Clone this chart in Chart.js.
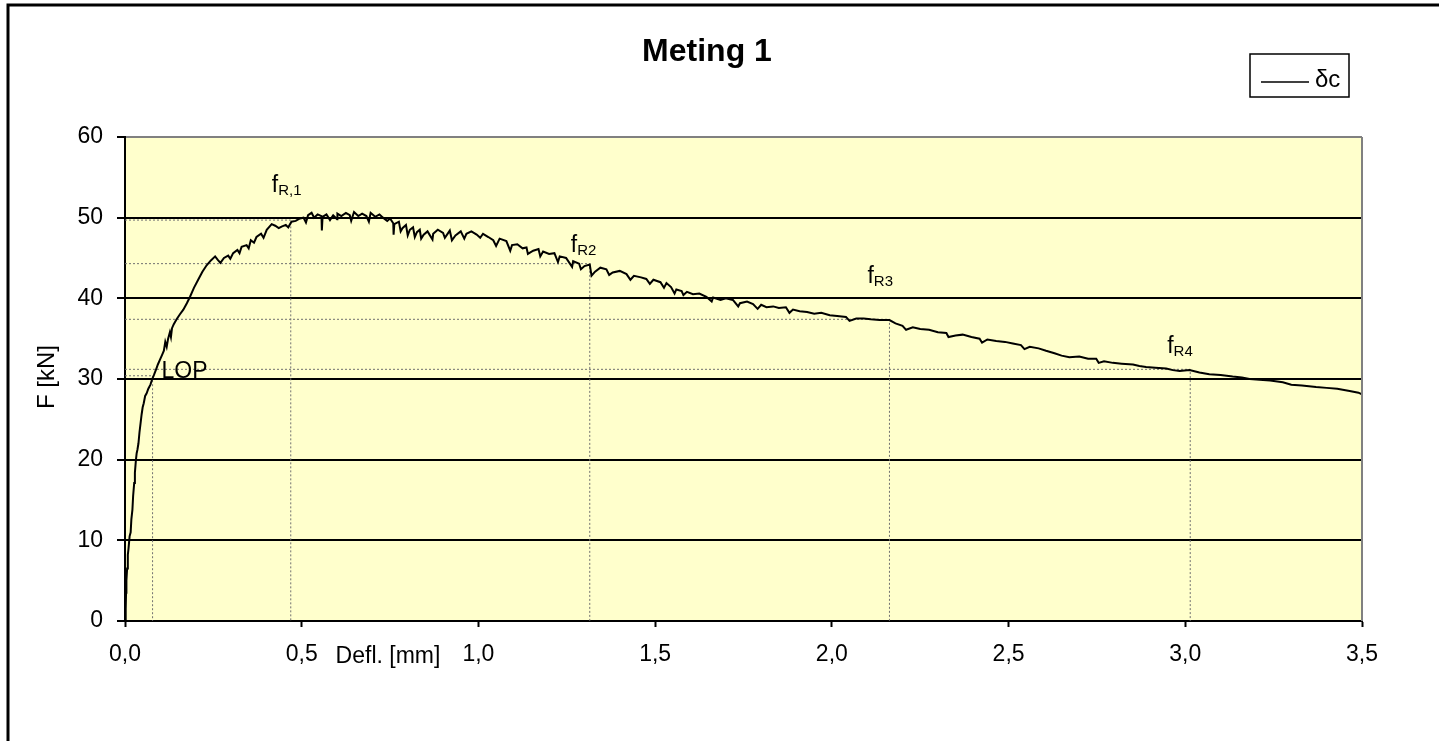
<!DOCTYPE html>
<html>
<head>
<meta charset="utf-8">
<script src="https://cdn.jsdelivr.net/npm/chart.js@4.4.1/dist/chart.umd.min.js"></script>
<style>
  html, body { margin: 0; padding: 0; background: #fff; }
  #wrap { width: 1439px; height: 741px; }
</style>
</head>
<body>
<div id="wrap"><canvas id="meting-chart" width="1439" height="741"></canvas></div>
<script>
const chartTitle = 'Meting 1';
const seriesLabel = 'δc';
const xTitle = 'Defl. [mm]';
const yTitle = 'F [kN]';

const xTickLabels = ['0,0', '0,5', '1,0', '1,5', '2,0', '2,5', '3,0', '3,5'];
const yTickLabels = ['0', '10', '20', '30', '40', '50', '60'];

// deflection [mm] and force [kN]
const defl = [
  0.000, 0.002, 0.003, 0.004, 0.006, 0.008, 0.010, 0.013, 0.016, 0.018,
  0.021, 0.023, 0.026, 0.028, 0.031, 0.033, 0.035, 0.038, 0.041, 0.044,
  0.047, 0.050, 0.053, 0.057, 0.061, 0.066, 0.072, 0.077, 0.082, 0.088,
  0.093, 0.099, 0.105, 0.110, 0.114, 0.118, 0.122, 0.127, 0.130, 0.133,
  0.138, 0.146, 0.155, 0.165, 0.175, 0.184, 0.195, 0.207, 0.219, 0.231,
  0.243, 0.255, 0.262, 0.270, 0.280, 0.292, 0.298, 0.306, 0.318, 0.324,
  0.330, 0.344, 0.350, 0.356, 0.365, 0.372, 0.385, 0.392, 0.401, 0.415,
  0.425, 0.435, 0.443, 0.455, 0.462, 0.471, 0.483, 0.495, 0.505, 0.512,
  0.518, 0.528, 0.535, 0.545, 0.556, 0.557, 0.559, 0.570, 0.580, 0.589,
  0.600, 0.601, 0.612, 0.625, 0.636, 0.640, 0.648, 0.660, 0.671, 0.683,
  0.690, 0.695, 0.708, 0.720, 0.730, 0.742, 0.750, 0.759, 0.760, 0.762,
  0.775, 0.780, 0.785, 0.795, 0.800, 0.806, 0.815, 0.820, 0.826, 0.834,
  0.838, 0.845, 0.856, 0.870, 0.872, 0.885, 0.900, 0.905, 0.919, 0.925,
  0.935, 0.950, 0.960, 0.966, 0.980, 0.995, 1.005, 1.013, 1.028, 1.042,
  1.050, 1.060, 1.079, 1.090, 1.095, 1.110, 1.125, 1.136, 1.140, 1.155,
  1.170, 1.175, 1.183, 1.200, 1.215, 1.225, 1.230, 1.248, 1.265, 1.268,
  1.285, 1.290, 1.300, 1.315, 1.320, 1.330, 1.345, 1.362, 1.370, 1.380,
  1.400, 1.419, 1.430, 1.440, 1.460, 1.475, 1.485, 1.495, 1.515, 1.525,
  1.532, 1.545, 1.555, 1.560, 1.575, 1.580, 1.590, 1.607, 1.625, 1.645,
  1.660, 1.664, 1.685, 1.700, 1.720, 1.735, 1.740, 1.760, 1.777, 1.790,
  1.800, 1.815, 1.834, 1.850, 1.870, 1.880, 1.890, 1.909, 1.930, 1.950,
  1.970, 1.994, 2.015, 2.040, 2.050, 2.069, 2.090, 2.110, 2.135, 2.163,
  2.180, 2.200, 2.210, 2.229, 2.250, 2.275, 2.300, 2.324, 2.330, 2.350,
  2.370, 2.395, 2.418, 2.425, 2.440, 2.465, 2.490, 2.512, 2.535, 2.545,
  2.560, 2.585, 2.606, 2.630, 2.650, 2.672, 2.700, 2.725, 2.748, 2.755,
  2.770, 2.795, 2.820, 2.852, 2.870, 2.889, 2.915, 2.946, 2.965, 2.984,
  3.012, 3.040, 3.068, 3.100, 3.134, 3.160, 3.182, 3.210, 3.240, 3.276,
  3.300, 3.330, 3.370, 3.400, 3.430, 3.465, 3.490, 3.510
];
const force = [
  0.0, 1.5, 3.5, 5.0, 6.5, 8.2, 9.0, 10.5, 11.0, 12.6,
  13.8, 15.5, 17.1, 18.4, 20.0, 20.8, 21.2, 22.0, 23.4, 24.5,
  25.6, 26.5, 27.0, 27.9, 28.2, 28.8, 29.3, 30.0, 30.5, 31.2,
  31.8, 32.4, 33.0, 33.5, 34.6, 34.0, 35.0, 35.8, 35.2, 36.3,
  36.8, 37.4, 38.0, 38.6, 39.4, 40.2, 41.3, 42.3, 43.3, 44.1,
  44.7, 45.2, 44.8, 44.4, 45.0, 45.3, 44.9, 45.6, 46.0, 45.6,
  46.4, 46.6, 46.2, 47.2, 46.9, 47.6, 48.0, 47.5, 48.5, 49.2,
  49.0, 48.7, 48.9, 49.1, 48.8, 49.5, 49.6, 49.9, 50.0, 49.4,
  50.3, 50.6, 50.0, 50.4, 50.2, 48.4, 50.1, 50.4, 49.7, 50.3,
  49.8, 50.5, 50.2, 50.6, 50.3, 49.6, 50.7, 50.2, 50.5, 50.2,
  49.5, 50.6, 50.1, 50.4, 50.0, 49.6, 49.9, 49.3, 47.9, 49.2,
  49.5, 48.3, 48.7, 49.1, 47.8, 48.5, 48.8, 47.6, 48.2, 48.5,
  47.4, 47.9, 48.3, 47.3, 48.0, 48.5, 48.1, 47.5, 48.4, 47.2,
  47.8, 48.3, 47.4, 48.0, 48.3, 47.9, 47.5, 48.0, 47.6, 47.2,
  46.5, 47.4, 47.1, 45.9, 46.6, 46.7, 46.2, 46.3, 45.5, 45.9,
  46.1, 45.2, 45.8, 45.5, 45.6, 44.5, 45.2, 45.0, 43.9, 44.6,
  44.3, 43.6, 44.0, 44.2, 42.8, 43.3, 43.8, 43.6, 42.9, 43.2,
  43.4, 43.0, 42.3, 42.8, 42.6, 42.4, 41.8, 42.3, 42.0, 41.3,
  41.9, 41.4, 40.6, 41.1, 40.9, 40.4, 40.8, 40.5, 40.6, 40.2,
  39.6, 40.1, 39.8, 40.0, 39.8, 39.0, 39.4, 39.6, 39.3, 38.7,
  39.2, 38.9, 39.0, 38.8, 38.9, 38.2, 38.6, 38.4, 38.3, 38.1,
  38.2, 37.9, 37.8, 37.7, 37.2, 37.5, 37.5, 37.4, 37.3, 37.3,
  36.9, 36.6, 36.1, 36.4, 36.2, 36.1, 35.8, 35.7, 35.2, 35.4,
  35.5, 35.2, 35.0, 34.5, 34.9, 34.7, 34.6, 34.4, 34.2, 33.7,
  34.0, 33.8, 33.5, 33.2, 32.9, 32.7, 32.8, 32.5, 32.5, 32.0,
  32.2, 32.0, 31.9, 31.8, 31.6, 31.5, 31.4, 31.3, 31.1, 31.0,
  31.1, 30.8, 30.6, 30.5, 30.3, 30.2, 30.0, 29.9, 29.8, 29.6,
  29.3, 29.2, 29.0, 28.9, 28.8, 28.5, 28.3, 27.9
];

// characteristic points: limit of proportionality and residual strengths
const markerText = ['LOP', 'f', 'f', 'f', 'f'];
const markerSub = ['', 'R,1', 'R2', 'R3', 'R4'];
const markerDefl = [0.078, 0.469, 1.315, 2.163, 3.014];
const markerForce = [30.4, 49.7, 44.3, 37.4, 31.2];

const FONT = '"Liberation Sans", Arial, Helvetica, sans-serif';
Chart.defaults.font.family = FONT;
Chart.defaults.font.size = 23;
Chart.defaults.color = '#000';

const datasets = [{
  label: seriesLabel,
  data: defl.map((x, i) => ({ x: x, y: force[i] })),
  borderColor: '#000',
  borderWidth: 2,
  pointRadius: 0,
  tension: 0
}];
markerDefl.forEach((x, i) => {
  datasets.push({
    label: 'marker' + i,
    data: [{ x: 0, y: markerForce[i] }, { x: x, y: markerForce[i] }, { x: x, y: 0 }],
    borderColor: '#707070',
    borderWidth: 1,
    borderDash: [2, 2],
    pointRadius: 0,
    tension: 0
  });
});

// label offsets (px) from each marker corner
const labelDx = [9, -19, -19, -22, -23];
const labelDy = [2, -28, -12, -36, -16];

const decor = {
  id: 'decor',
  beforeDraw(chart) {
    const { ctx, chartArea: a } = chart;
    ctx.save();
    ctx.fillStyle = '#fff';
    ctx.fillRect(0, 0, chart.width, chart.height);
    ctx.fillStyle = '#ffffcc';
    ctx.fillRect(a.left, a.top, a.right - a.left, a.bottom - a.top);
    ctx.restore();
  },
  afterDraw(chart) {
    const { ctx, chartArea: a, scales } = chart;
    ctx.save();
    // right border of plot area
    ctx.strokeStyle = '#808080';
    ctx.lineWidth = 2;
    ctx.beginPath();
    ctx.moveTo(a.right, a.top);
    ctx.lineTo(a.right, a.bottom);
    ctx.stroke();

    // outer frame
    ctx.strokeStyle = '#000';
    ctx.lineWidth = 3;
    ctx.strokeRect(8, 5, 2000, 2000);

    // title
    ctx.fillStyle = '#000';
    ctx.font = 'bold 32px ' + FONT;
    ctx.textAlign = 'center';
    ctx.textBaseline = 'middle';
    ctx.fillText(chartTitle, 707, 52);

    // legend
    ctx.lineWidth = 1.5;
    ctx.strokeRect(1250, 54, 99, 43);
    ctx.beginPath();
    ctx.moveTo(1261, 82);
    ctx.lineTo(1309, 82);
    ctx.stroke();
    ctx.font = '24px ' + FONT;
    ctx.textAlign = 'left';
    ctx.fillText(seriesLabel, 1315, 80);

    // axis titles
    ctx.font = '23px ' + FONT;
    ctx.textAlign = 'center';
    ctx.fillText(xTitle, 388, 657);
    ctx.save();
    ctx.translate(47, 377);
    ctx.rotate(-Math.PI / 2);
    ctx.font = '24px ' + FONT;
    ctx.fillText(yTitle, 0, 0);
    ctx.restore();

    // marker labels
    ctx.textAlign = 'left';
    ctx.textBaseline = 'alphabetic';
    markerText.forEach((t, i) => {
      const px = scales.x.getPixelForValue(markerDefl[i]) + labelDx[i];
      const py = scales.y.getPixelForValue(markerForce[i]) + labelDy[i];
      ctx.font = '23px ' + FONT;
      ctx.fillText(t, px, py);
      if (markerSub[i]) {
        const w = ctx.measureText(t).width;
        ctx.font = '15px ' + FONT;
        ctx.fillText(markerSub[i], px + w, py + 3);
      }
    });
    ctx.restore();
  }
};

const ctx = document.getElementById('meting-chart').getContext('2d');
const metingChart = new Chart(ctx, {
  type: 'line',
  data: { datasets: datasets },
  options: {
    responsive: false,
    animation: false,
    devicePixelRatio: 1,
    layout: { padding: { top: 137, right: 77, left: 0, bottom: 0 } },
    plugins: {
      legend: { display: false },
      title: { display: false },
      tooltip: { enabled: false }
    },
    scales: {
      x: {
        type: 'linear',
        min: 0,
        max: 3.5,
        ticks: {
          stepSize: 0.5,
          padding: 14,
          maxRotation: 0,
          callback: (v, i) => xTickLabels[i]
        },
        grid: { drawOnChartArea: false, tickLength: 6, tickColor: '#000', tickWidth: 2 },
        border: { color: '#000', width: 2 },
        afterFit: s => { s.height = 120; }
      },
      y: {
        min: 0,
        max: 60,
        ticks: {
          stepSize: 10,
          padding: 14,
          callback: (v, i) => yTickLabels[i]
        },
        grid: {
          color: c => (c.tick && c.tick.value === 60) ? '#808080' : '#000',
          lineWidth: 2,
          tickLength: 8,
          tickColor: '#000',
          tickWidth: 2
        },
        border: { color: '#000', width: 2 },
        afterFit: s => { s.width = 125; }
      }
    }
  },
  plugins: [decor]
});
</script>
</body>
</html>
